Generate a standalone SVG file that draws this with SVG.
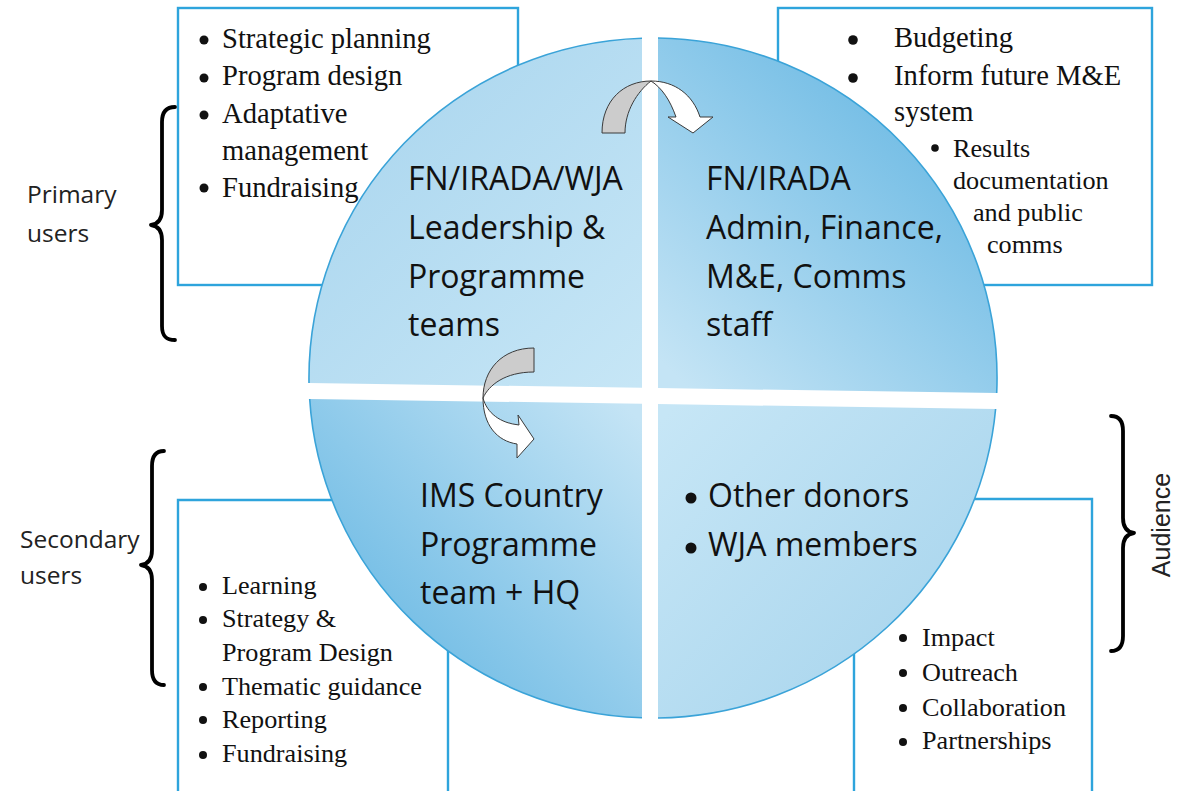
<svg xmlns="http://www.w3.org/2000/svg" width="1185" height="791" viewBox="0 0 1185 791">
  <style>
    .box { fill: #ffffff; stroke: #2ea4dc; stroke-width: 2.4; }
    .boxline { fill: none; stroke: #2ea4dc; stroke-width: 2.4; }
    .serif { font-family: "Liberation Serif", "Times New Roman", serif; fill: #111111; }
    .big { font-size: 28.6px; }
    .small { font-size: 26.2px; }
    .sans { font-family: "Open Sans", "Liberation Sans", sans-serif; fill: #111111; }
    .hub { font-size: 32px; }
    .label { font-size: 24.5px; fill: #222222; }
    .dot { fill: #111111; }
    .brace { fill: none; stroke: #000000; stroke-width: 3.8; stroke-linecap: round; stroke-linejoin: round; }
    .rim { fill: none; stroke: #3aa3d8; stroke-width: 1.6; }
    .twist { stroke: #3a3a3a; stroke-width: 1; stroke-linejoin: round; }
  </style>
  <defs>
    <linearGradient id="gTL" gradientUnits="userSpaceOnUse" x1="330" y1="60" x2="640" y2="385">
      <stop offset="0" stop-color="#a9d5ee"/>
      <stop offset="1" stop-color="#c6e6f6"/>
    </linearGradient>
    <linearGradient id="gTR" gradientUnits="userSpaceOnUse" x1="680" y1="380" x2="980" y2="60">
      <stop offset="0" stop-color="#c4e4f5"/>
      <stop offset="1" stop-color="#5eb3e1"/>
    </linearGradient>
    <linearGradient id="gBL" gradientUnits="userSpaceOnUse" x1="630" y1="410" x2="330" y2="700">
      <stop offset="0" stop-color="#c4e4f5"/>
      <stop offset="1" stop-color="#5eb3e1"/>
    </linearGradient>
    <linearGradient id="gBR" gradientUnits="userSpaceOnUse" x1="670" y1="410" x2="980" y2="700">
      <stop offset="0" stop-color="#c6e6f6"/>
      <stop offset="1" stop-color="#a5d3ec"/>
    </linearGradient>
  </defs>

  <rect width="1185" height="791" fill="#ffffff"/>

  <!-- outer boxes with bullet lists (sit behind the circle) -->
  <g id="box-leadership-uses">
    <rect class="box" x="178" y="8" width="340" height="277"/>
    <circle class="dot" cx="204" cy="40" r="4.5"/>
    <circle class="dot" cx="204" cy="78" r="4.5"/>
    <circle class="dot" cx="204" cy="115" r="4.5"/>
    <circle class="dot" cx="204" cy="188" r="4.5"/>
    <text class="serif big" x="222" y="48">Strategic planning</text>
    <text class="serif big" x="222" y="85">Program design</text>
    <text class="serif big" x="222" y="123">Adaptative</text>
    <text class="serif big" x="222" y="160">management</text>
    <text class="serif big" x="222" y="197">Fundraising</text>
  </g>

  <g id="box-admin-uses">
    <rect class="box" x="778" y="8" width="374" height="277"/>
    <circle class="dot" cx="853" cy="40" r="4.8"/>
    <circle class="dot" cx="853" cy="78" r="4.8"/>
    <circle class="dot" cx="935" cy="148" r="3.8"/>
    <text class="serif big" x="894" y="47">Budgeting</text>
    <text class="serif big" x="894" y="85">Inform future M&amp;E</text>
    <text class="serif big" x="894" y="121">system</text>
    <text class="serif small" x="953" y="157">Results</text>
    <text class="serif small" x="953" y="189">documentation</text>
    <text class="serif small" x="973" y="221">and public</text>
    <text class="serif small" x="987" y="253">comms</text>
  </g>

  <g id="box-country-uses">
    <path class="boxline" d="M178,795 V500 H448 V795"/>
    <circle class="dot" cx="203" cy="587" r="4"/>
    <circle class="dot" cx="203" cy="620" r="4"/>
    <circle class="dot" cx="203" cy="687" r="4"/>
    <circle class="dot" cx="203" cy="720" r="4"/>
    <circle class="dot" cx="203" cy="755" r="4"/>
    <text class="serif small" x="222" y="594">Learning</text>
    <text class="serif small" x="222" y="627">Strategy &amp;</text>
    <text class="serif small" x="222" y="661">Program Design</text>
    <text class="serif small" x="222" y="695">Thematic guidance</text>
    <text class="serif small" x="222" y="728">Reporting</text>
    <text class="serif small" x="222" y="762">Fundraising</text>
  </g>

  <g id="box-audience-uses">
    <path class="boxline" d="M854,795 V499 H1092 V795"/>
    <circle class="dot" cx="903" cy="638" r="4"/>
    <circle class="dot" cx="903" cy="673" r="4"/>
    <circle class="dot" cx="903" cy="708" r="4"/>
    <circle class="dot" cx="903" cy="742" r="4"/>
    <text class="serif small" x="922" y="646">Impact</text>
    <text class="serif small" x="922" y="681">Outreach</text>
    <text class="serif small" x="922" y="716">Collaboration</text>
    <text class="serif small" x="922" y="749">Partnerships</text>
  </g>

  <!-- four quarters of the central circle -->
  <g id="quarter-leadership">
    <path fill="url(#gTL)" d="M642,387.8 L309,383 A344,340 0 0 1 642,38.2 Z"/>
    <path class="rim" d="M309,383 A344,340 0 0 1 642,38.2"/>
    <text class="sans hub" x="408" y="190">FN/IRADA/WJA</text>
    <text class="sans hub" x="408" y="239">Leadership &amp;</text>
    <text class="sans hub" x="408" y="288">Programme</text>
    <text class="sans hub" x="408" y="336">teams</text>
  </g>

  <g id="quarter-admin">
    <path fill="url(#gTR)" d="M658,388.1 L658,38 A344,340 0 0 1 996.7,393 Z"/>
    <path class="rim" d="M658,38 A344,340 0 0 1 996.7,393"/>
    <text class="sans hub" x="706" y="190">FN/IRADA</text>
    <text class="sans hub" x="706" y="239">Admin, Finance,</text>
    <text class="sans hub" x="706" y="288">M&amp;E, Comms</text>
    <text class="sans hub" x="706" y="336">staff</text>
  </g>

  <g id="quarter-country">
    <path fill="url(#gBL)" d="M642,403.8 L642,717.8 A344,340 0 0 1 309.7,399 Z"/>
    <path class="rim" d="M642,717.8 A344,340 0 0 1 309.7,399"/>
    <text class="sans hub" x="420" y="507">IMS Country</text>
    <text class="sans hub" x="420" y="556">Programme</text>
    <text class="sans hub" x="420" y="604">team + HQ</text>
  </g>

  <g id="quarter-audience">
    <path fill="url(#gBR)" d="M658,404.1 L995.6,409 A344,340 0 0 1 658,718 Z"/>
    <path class="rim" d="M995.6,409 A344,340 0 0 1 658,718"/>
    <circle class="dot" cx="691" cy="498" r="5.5"/>
    <circle class="dot" cx="691" cy="548" r="5.5"/>
    <text class="sans hub" x="708" y="507">Other donors</text>
    <text class="sans hub" x="708" y="556">WJA members</text>
  </g>

  <!-- twisted curved arrows between quarters -->
  <g id="connectors">
    <g id="arrow-leadership-admin">
      <path class="twist" fill="#cccccc" d="M602,133 C602,100 624,81 651,81 C637,92 625,111 625,133 Z"/>
      <path class="twist" fill="#ffffff" d="M651,81 C675,81 693,95 700,117 L713,117 L693,133 L668,117 L676,117 C670,100 662,88 651,81 Z"/>
    </g>
    <g id="arrow-leadership-country">
      <path class="twist" fill="#cccccc" d="M534,348 C502,348 483,370 483,398 C489,385 505,372 534,372 Z"/>
      <path class="twist" fill="#ffffff" d="M483,398 C487,413 500,423 519,425 L518,415 L534,439 L517,458 L517,444 C497,441 483,425 483,398 Z"/>
    </g>
  </g>

  <!-- side labels with braces -->
  <g id="primary-users">
    <path class="brace" d="M175,107 C166,107 162,112 162,122 L162,210 C162,219 158,224 151,225 C158,226 162,231 162,240 L162,326 C162,336 166,340 175,340"/>
    <text class="sans label" x="27" y="203">Primary</text>
    <text class="sans label" x="27" y="242">users</text>
  </g>

  <g id="secondary-users">
    <path class="brace" d="M164,451 C156,451 152,456 152,466 L152,550 C152,559 148,564 141,565 C148,566 152,571 152,580 L152,670 C152,680 156,685 164,685"/>
    <text class="sans label" x="20" y="548">Secondary</text>
    <text class="sans label" x="20" y="584">users</text>
  </g>

  <g id="audience">
    <path class="brace" d="M1111,416 C1119,416 1123,421 1123,431 L1123,518 C1123,527 1127,532 1134,533 C1127,534 1123,539 1123,548 L1123,636 C1123,646 1119,651 1111,651"/>
    <text font-family="Liberation Sans, Arial, sans-serif" font-size="25" fill="#222222" text-anchor="middle" transform="translate(1170,525) rotate(-90)">Audience</text>
  </g>
</svg>
